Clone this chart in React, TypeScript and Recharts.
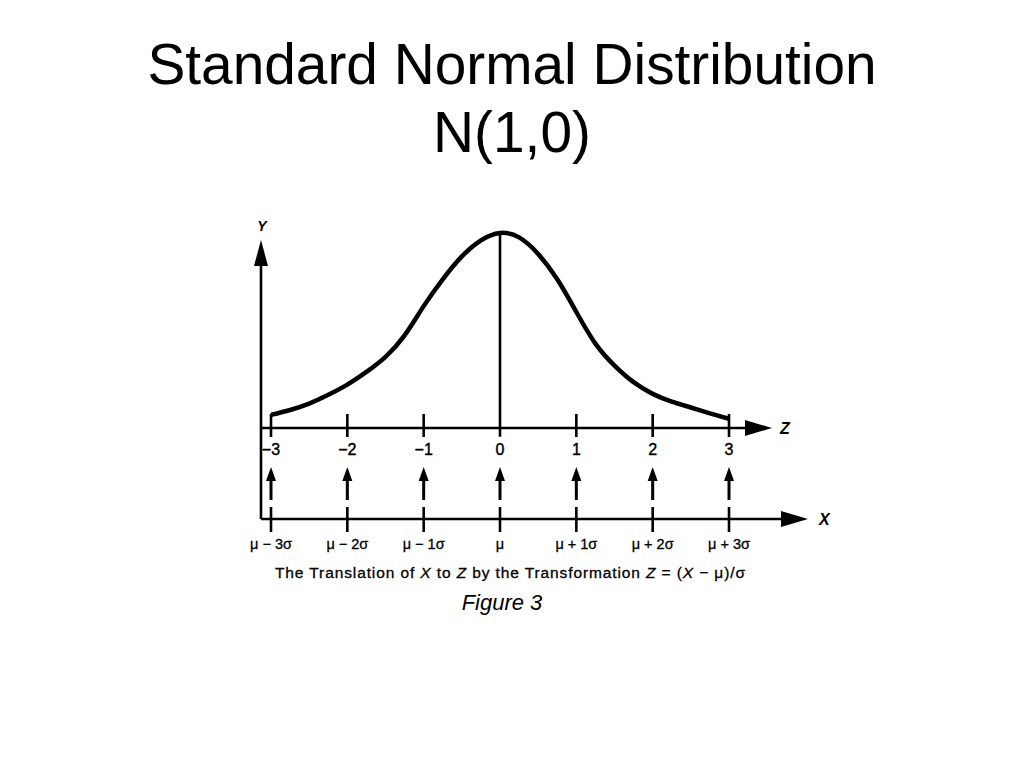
import React from 'react';
import { ComposedChart, Line, XAxis, YAxis, Scatter, ReferenceLine, ReferenceDot } from 'recharts';

// Curve (z on the horizontal, density-like height on the vertical)
const curveZ = [-3, -2.75, -2.5, -2.25, -2, -1.75, -1.5, -1.25, -1, -0.75, -0.5, -0.25, 0, 0.25, 0.5, 0.75, 1, 1.25, 1.5, 1.75, 2, 2.25, 2.5, 2.75, 3];
const curveY = [0.027, 0.037, 0.05, 0.068, 0.089, 0.115, 0.146, 0.19, 0.25, 0.305, 0.352, 0.385, 0.4, 0.391, 0.357, 0.305, 0.238, 0.173, 0.128, 0.094, 0.07, 0.054, 0.042, 0.03, 0.019];

const zTicks = [-3, -2, -1, 0, 1, 2, 3];
const zTickLabels = ['−3', '−2', '−1', '0', '1', '2', '3'];
const xTickLabels = ['μ − 3σ', 'μ − 2σ', 'μ − 1σ', 'μ', 'μ + 1σ', 'μ + 2σ', 'μ + 3σ'];

const titleLines = ['Standard Normal Distribution', 'N(1,0)'];
const figureLabel = 'Figure 3';

// Axis geometry in data units
const zDomain: [number, number] = [-3.131, 4.061];
const vDomain: [number, number] = [-0.2708, 0.4267];
const yAxisZ = -3.131;
const xAxisLevel = -0.1867;
const arrowLevel = -0.08;
const yArrowTip = 0.3856;
const zArrowTip = 3.563;
const xArrowTip = 4.035;
const peakValue = 0.4;

const FONT = 'Liberation Sans, Arial, Helvetica, sans-serif';

const curveData = curveZ.map((z, i) => ({ z, v: curveY[i] }));
const zMarkData = zTicks.map((z, i) => ({ z, v: 0, label: zTickLabels[i] }));
const arrowData = zTicks.map((z) => ({ z, v: arrowLevel }));
const xMarkData = zTicks.map((z, i) => ({ z, v: xAxisLevel, label: xTickLabels[i] }));

const ZMark = (p: any) => {
  const { cx, cy, payload } = p;
  return (
    <g>
      {payload.z !== 0 && (
        <line x1={cx} x2={cx} y1={cy - 14} y2={cy + 9} stroke="#000" strokeWidth={2.6} />
      )}
      <text x={cx} y={cy + 27} textAnchor="middle" fontFamily={FONT} fontSize={16} fill="#000" stroke="#000" strokeWidth={0.4}>
        {payload.label}
      </text>
    </g>
  );
};

const UpArrow = (p: any) => {
  const { cx, cy } = p;
  return (
    <g>
      <line x1={cx} x2={cx} y1={cy + 8} y2={cy + 33} stroke="#000" strokeWidth={3} />
      <polygon points={`${cx},${cy} ${cx - 5},${cy + 14} ${cx + 5},${cy + 14}`} fill="#000" />
    </g>
  );
};

const XMark = (p: any) => {
  const { cx, cy, payload } = p;
  return (
    <g>
      <line x1={cx} x2={cx} y1={cy - 12} y2={cy + 13} stroke="#000" strokeWidth={2.6} />
      <text x={cx} y={cy + 30} textAnchor="middle" fontFamily={FONT} fontSize={14.5} fill="#000" stroke="#000" strokeWidth={0.3}>
        {payload.label}
      </text>
    </g>
  );
};

const RightArrowHead = (label: string, gap: number) => (p: any) => {
  const { cx, cy } = p;
  return (
    <g>
      <polygon points={`${cx},${cy} ${cx - 27},${cy - 8} ${cx - 27},${cy + 8}`} fill="#000" />
      <text x={cx + gap} y={cy + 6} fontFamily={FONT} fontSize={16} fontStyle="italic" fontWeight="bold" fill="#000">
        {label}
      </text>
    </g>
  );
};

const UpArrowHead = (p: any) => {
  const { cx, cy } = p;
  return (
    <g>
      <polygon points={`${cx},${cy} ${cx - 7},${cy + 26} ${cx + 7},${cy + 26}`} fill="#000" />
      <text x={cx + 1} y={cy - 9} textAnchor="middle" fontFamily={FONT} fontSize={14} fontStyle="italic" fontWeight="bold" fill="#000">
        Y
      </text>
    </g>
  );
};

export default function App() {
  return (
    <div style={{ position: 'absolute', left: 0, top: 0, width: 1024, height: 768, background: '#fff' }}>
      <svg width={1024} height={768} style={{ position: 'absolute', left: 0, top: 0 }}>
        <text x={512} y={84} textAnchor="middle" fontFamily={FONT} fontSize={56.8} fill="#000">
          {titleLines[0]}
        </text>
        <text x={512} y={152} textAnchor="middle" fontFamily={FONT} fontSize={56.8} fill="#000">
          {titleLines[1]}
        </text>
        <text x={275} y={578} textLength={470} lengthAdjust="spacing" fontFamily={FONT} fontSize={15.5} fill="#000" stroke="#000" strokeWidth={0.3}>
          <tspan>The Translation of </tspan>
          <tspan fontStyle="italic">X</tspan>
          <tspan> to </tspan>
          <tspan fontStyle="italic">Z</tspan>
          <tspan> by the Transformation </tspan>
          <tspan fontStyle="italic">Z</tspan>
          <tspan> = (</tspan>
          <tspan fontStyle="italic">X</tspan>
          <tspan> − μ)/σ</tspan>
        </text>
        <text x={502} y={610} textAnchor="middle" fontFamily={FONT} fontSize={22} fontStyle="italic" fill="#000">
          {figureLabel}
        </text>
      </svg>
      <div style={{ position: 'absolute', left: 0, top: 0 }}>
        <ComposedChart
          width={1024}
          height={768}
          data={curveData}
          margin={{ top: 220, right: 214, bottom: 208, left: 261 }}
        >
          <XAxis type="number" dataKey="z" domain={zDomain} hide />
          <YAxis type="number" dataKey="v" domain={vDomain} hide />
          {/* Y axis */}
          <ReferenceLine
            segment={[{ x: yAxisZ, y: xAxisLevel }, { x: yAxisZ, y: yArrowTip - 0.03 }]}
            stroke="#000"
            strokeWidth={2.6}
            ifOverflow="visible"
          />
          {/* Z axis */}
          <ReferenceLine
            segment={[{ x: yAxisZ, y: 0 }, { x: zArrowTip - 0.2, y: 0 }]}
            stroke="#000"
            strokeWidth={2.6}
            ifOverflow="visible"
          />
          {/* X axis */}
          <ReferenceLine
            segment={[{ x: yAxisZ, y: xAxisLevel }, { x: xArrowTip - 0.2, y: xAxisLevel }]}
            stroke="#000"
            strokeWidth={2.6}
            ifOverflow="visible"
          />
          {/* mean line */}
          <ReferenceLine
            segment={[{ x: 0, y: -0.018 }, { x: 0, y: peakValue }]}
            stroke="#000"
            strokeWidth={2.6}
            ifOverflow="visible"
          />
          <ReferenceDot x={zArrowTip} y={0} ifOverflow="visible" shape={RightArrowHead('Z', 8)} />
          <ReferenceDot x={xArrowTip} y={xAxisLevel} ifOverflow="visible" shape={RightArrowHead('X', 11)} />
          <ReferenceDot x={yAxisZ} y={yArrowTip} ifOverflow="visible" shape={UpArrowHead} />
          <Line
            type="natural"
            dataKey="v"
            stroke="#000"
            strokeWidth={4.5}
            dot={false}
            activeDot={false}
            isAnimationActive={false}
          />
          <Scatter data={zMarkData} dataKey="v" shape={ZMark} isAnimationActive={false} />
          <Scatter data={arrowData} dataKey="v" shape={UpArrow} isAnimationActive={false} />
          <Scatter data={xMarkData} dataKey="v" shape={XMark} isAnimationActive={false} />
        </ComposedChart>
      </div>
    </div>
  );
}
